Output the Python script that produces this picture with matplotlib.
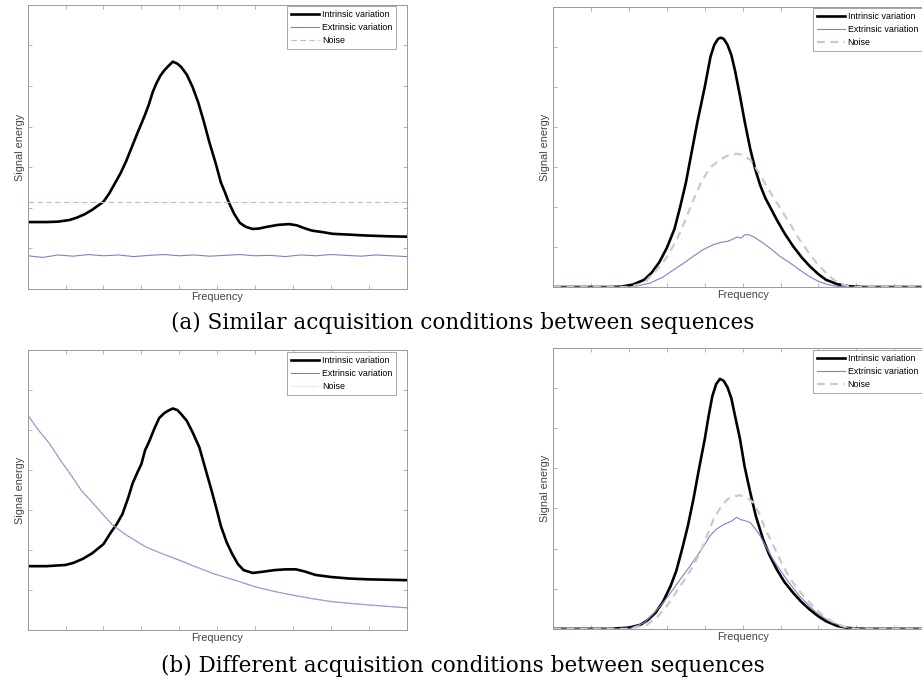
import matplotlib.pyplot as plt
import numpy as np

# frequency axis runs 0..10, signal energy 0..7 (no tick labels in the original)

# (a) left panel - intrinsic curve
freq_int_a = [0, 0.5, 0.8, 1.1, 1.3, 1.5, 1.7, 1.85, 2.0, 2.15, 2.3, 2.45, 2.6, 2.75, 2.9, 3.0,
              3.1, 3.2, 3.3, 3.4, 3.5, 3.6, 3.7, 3.83, 3.95, 4.05, 4.2, 4.35, 4.5, 4.65, 4.8, 4.97,
              5.1, 5.2, 5.3, 5.45, 5.6, 5.76, 5.94, 6.1, 6.3, 6.6, 6.9, 7.1, 7.3, 7.5, 7.8, 8.05,
              8.5, 8.9, 9.5, 10]
energy_int_a = [1.65, 1.65, 1.66, 1.7, 1.76, 1.84, 1.95, 2.05, 2.15, 2.35, 2.6, 2.85, 3.15, 3.5, 3.85, 4.07,
                4.3, 4.55, 4.85, 5.07, 5.25, 5.38, 5.48, 5.6, 5.55, 5.47, 5.28, 4.98, 4.6, 4.12, 3.6, 3.07,
                2.62, 2.4, 2.15, 1.85, 1.63, 1.53, 1.48, 1.49, 1.53, 1.58, 1.6, 1.57, 1.5, 1.44, 1.4, 1.36,
                1.34, 1.32, 1.3, 1.29]
# (a) left panel - extrinsic (wavy flat line) and noise (flat dashed)
freq_ext_a = [0, 0.4, 0.8, 1.2, 1.6, 2.0, 2.4, 2.8, 3.2, 3.6, 4.0, 4.4, 4.8, 5.2, 5.6, 6.0,
              6.4, 6.8, 7.2, 7.6, 8.0, 8.4, 8.8, 9.2, 9.6, 10]
energy_ext_a = [0.82, 0.78, 0.84, 0.81, 0.85, 0.82, 0.84, 0.80, 0.83, 0.85, 0.82, 0.84, 0.81, 0.83, 0.85, 0.82,
                0.83, 0.80, 0.84, 0.82, 0.85, 0.83, 0.81, 0.84, 0.82, 0.80]
freq_noise_a = [0, 10]
energy_noise_a = [2.15, 2.15]

# (a) right panel
freq_int_a2 = [0, 1.5, 1.8, 2.1, 2.4, 2.6, 2.8, 3.0, 3.2, 3.35, 3.5, 3.6, 3.8, 4.0, 4.15, 4.25,
               4.35, 4.42, 4.5, 4.6, 4.7, 4.8, 4.93, 5.05, 5.2, 5.33, 5.46, 5.6, 5.75, 5.9, 6.1, 6.33,
               6.55, 6.77, 7.0, 7.2, 7.5, 7.8, 8.2, 10]
energy_int_a2 = [0, 0, 0.01, 0.06, 0.18, 0.36, 0.62, 0.98, 1.45, 2.0, 2.6, 3.1, 4.1, 5.0, 5.75, 6.05,
                 6.2, 6.23, 6.2, 6.05, 5.8, 5.4, 4.77, 4.15, 3.45, 2.95, 2.55, 2.22, 1.95, 1.68, 1.35, 1.02,
                 0.75, 0.52, 0.32, 0.18, 0.07, 0.02, 0, 0]
freq_ext_a2 = [0, 2.1, 2.56, 2.9, 3.18, 3.45, 3.7, 3.95, 4.23, 4.45, 4.6, 4.75, 4.85, 4.95, 5.05, 5.15,
               5.3, 5.54, 5.75, 5.98, 6.25, 6.5, 6.75, 7.0, 7.25, 7.47, 7.7, 10]
energy_ext_a2 = [0, 0, 0.1, 0.25, 0.43, 0.6, 0.77, 0.93, 1.06, 1.12, 1.14, 1.2, 1.25, 1.22, 1.3, 1.31,
                 1.25, 1.1, 0.95, 0.77, 0.6, 0.43, 0.27, 0.14, 0.06, 0.02, 0, 0]
freq_noise_a2 = [0, 2.0, 2.4, 2.8, 3.0, 3.26, 3.5, 3.7, 3.9, 4.05, 4.2, 4.4, 4.6, 4.84, 5.0, 5.2,
                 5.4, 5.63, 5.85, 6.07, 6.3, 6.5, 6.75, 6.95, 7.2, 7.4, 7.6, 7.8, 8.0, 10]
energy_noise_a2 = [0, 0, 0.1, 0.5, 0.75, 1.18, 1.7, 2.18, 2.6, 2.85, 3.03, 3.18, 3.28, 3.33, 3.3, 3.18,
                   2.9, 2.52, 2.18, 1.85, 1.5, 1.18, 0.85, 0.6, 0.35, 0.18, 0.07, 0.02, 0, 0]

# (b) left panel
freq_int_b = [0, 0.5, 1.0, 1.2, 1.45, 1.7, 2.0, 2.2, 2.35, 2.5, 2.65, 2.77, 2.9, 3.0, 3.1, 3.2,
              3.35, 3.47, 3.6, 3.7, 3.83, 3.95, 4.05, 4.2, 4.35, 4.53, 4.7, 4.85, 4.97, 5.1, 5.25, 5.4,
              5.55, 5.7, 5.94, 6.2, 6.5, 6.8, 7.08, 7.3, 7.6, 8.0, 8.5, 9.0, 10]
energy_int_b = [1.6, 1.6, 1.63, 1.68, 1.78, 1.92, 2.15, 2.45, 2.65, 2.9, 3.3, 3.67, 3.95, 4.15, 4.5, 4.7,
                5.05, 5.3, 5.42, 5.48, 5.54, 5.5, 5.4, 5.23, 4.95, 4.57, 4.0, 3.5, 3.08, 2.6, 2.2, 1.9,
                1.65, 1.5, 1.43, 1.46, 1.5, 1.52, 1.52, 1.47, 1.38, 1.33, 1.29, 1.27, 1.25]
freq_ext_b = [0, 0.3, 0.57, 0.9, 1.2, 1.41, 1.7, 2.0, 2.24, 2.6, 3.12, 3.5, 4.0, 4.5, 4.88, 5.5,
              6.02, 6.5, 7.0, 7.5, 8.05, 9.0, 10]
energy_ext_b = [5.38, 4.98, 4.67, 4.2, 3.8, 3.5, 3.2, 2.88, 2.63, 2.38, 2.08, 1.93, 1.75, 1.56, 1.42, 1.24,
                1.08, 0.97, 0.875, 0.79, 0.71, 0.63, 0.56]
# noise lies under the extrinsic curve in this panel
freq_noise_b = freq_ext_b
energy_noise_b = energy_ext_b

# (b) right panel
freq_int_b2 = [0, 1.5, 2.0, 2.3, 2.5, 2.7, 2.9, 3.1, 3.25, 3.4, 3.55, 3.7, 3.85, 4.0, 4.1, 4.2,
               4.3, 4.4, 4.5, 4.6, 4.7, 4.8, 4.93, 5.05, 5.2, 5.35, 5.54, 5.7, 5.9, 6.1, 6.33, 6.55,
               6.77, 7.0, 7.2, 7.5, 7.8, 8.2, 10]
energy_int_b2 = [0, 0, 0.03, 0.1, 0.22, 0.4, 0.68, 1.07, 1.45, 1.98, 2.55, 3.23, 4.0, 4.73, 5.3, 5.8,
                 6.1, 6.23, 6.18, 6.02, 5.75, 5.3, 4.73, 4.05, 3.4, 2.8, 2.23, 1.85, 1.48, 1.17, 0.9, 0.67,
                 0.48, 0.31, 0.19, 0.07, 0.02, 0, 0]
freq_ext_b2 = [0, 2.0, 2.4, 2.65, 2.9, 3.1, 3.35, 3.6, 3.8, 4.0, 4.14, 4.3, 4.5, 4.7, 4.84, 4.95,
               5.05, 5.2, 5.33, 5.46, 5.6, 5.8, 6.0, 6.16, 6.33, 6.5, 6.75, 6.95, 7.2, 7.4, 7.6, 7.8,
               8.0, 10]
energy_ext_b2 = [0, 0, 0.15, 0.38, 0.65, 0.9, 1.23, 1.55, 1.82, 2.1, 2.32, 2.48, 2.6, 2.68, 2.78, 2.72,
                 2.7, 2.65, 2.5, 2.32, 2.07, 1.73, 1.45, 1.23, 1.02, 0.82, 0.58, 0.4, 0.24, 0.15, 0.07, 0.02,
                 0, 0]
freq_noise_b2 = [0, 2.0, 2.47, 2.75, 3.0, 3.2, 3.44, 3.65, 3.88, 4.05, 4.23, 4.4, 4.6, 4.75, 4.93, 5.1,
                 5.28, 5.45, 5.6, 5.8, 5.98, 6.15, 6.33, 6.55, 6.77, 7.0, 7.2, 7.45, 7.7, 8.0, 10]
energy_noise_b2 = [0, 0, 0.1, 0.3, 0.57, 0.85, 1.19, 1.5, 1.9, 2.3, 2.73, 3.0, 3.23, 3.3, 3.33, 3.27,
                   3.15, 2.85, 2.48, 2.1, 1.73, 1.42, 1.15, 0.88, 0.65, 0.43, 0.27, 0.13, 0.05, 0, 0]

labels = ['Intrinsic variation', 'Extrinsic variation', 'Noise']
captions = ['(a) Similar acquisition conditions between sequences',
            '(b) Different acquisition conditions between sequences']


def style_axes(ax):
    ax.set_xlim(0, 10)
    ax.set_ylim(0, 7)
    ax.set_xticks(np.arange(0, 11, 1))
    ax.set_yticks(np.arange(0, 8, 1))
    ax.tick_params(direction='in', length=3, width=0.5, colors='#999999',
                   top=True, right=True, labelbottom=False, labelleft=False)
    for s in ax.spines.values():
        s.set_color('#9a9a9a')
        s.set_linewidth(0.7)
    ax.set_xlabel('Frequency', fontsize=7.8, color='#444444', labelpad=2)
    ax.set_ylabel('Signal energy', fontsize=7.8, color='#444444', labelpad=2)
    ax.legend(labels, loc='upper right', bbox_to_anchor=(0.985, 1.01), fontsize=6.4,
              frameon=True, fancybox=False, edgecolor='#999999', framealpha=1,
              handlelength=3.2, labelspacing=0.45, borderpad=0.45, handletextpad=0.3)
    ax.get_legend().get_frame().set_linewidth(0.6)


def draw_panel(ax, fi, ei, fe, ee, fn, en, noise_kw):
    ax.plot(fi, ei, color='black', lw=1.9)
    ax.plot(fe, ee, color='#8080cc', lw=0.8)
    ax.plot(fn, en, **noise_kw)
    style_axes(ax)


def main():
    plt.rcParams['font.family'] = ['Liberation Sans', 'DejaVu Sans']
    fig = plt.figure(figsize=(9.22, 6.85), dpi=100)

    ax_tl = fig.add_axes([0.030, 0.578, 0.411, 0.415])
    ax_tr = fig.add_axes([0.600, 0.581, 0.411, 0.409])
    ax_bl = fig.add_axes([0.030, 0.080, 0.411, 0.409])
    ax_br = fig.add_axes([0.600, 0.082, 0.411, 0.410])

    thin_noise = dict(color='#e8aab8', lw=0.8, dashes=(5, 3))
    thick_noise = dict(color='#d8c4c8', lw=1.6, dashes=(3.5, 2.5))
    faint_noise = dict(color='#c8c8dc', lw=0.7, ls=':')

    draw_panel(ax_tl, freq_int_a, energy_int_a, freq_ext_a, energy_ext_a,
               freq_noise_a, energy_noise_a, thin_noise)
    draw_panel(ax_tr, freq_int_a2, energy_int_a2, freq_ext_a2, energy_ext_a2,
               freq_noise_a2, energy_noise_a2, thick_noise)
    draw_panel(ax_bl, freq_int_b, energy_int_b, freq_ext_b, energy_ext_b,
               freq_noise_b, energy_noise_b, faint_noise)
    draw_panel(ax_br, freq_int_b2, energy_int_b2, freq_ext_b2, energy_ext_b2,
               freq_noise_b2, energy_noise_b2, thick_noise)

    fig.text(463 / 922, 1 - 329 / 685, captions[0], ha='center', va='baseline',
             family='DejaVu Serif', fontsize=15.5)
    fig.text(463 / 922, 1 - 672 / 685, captions[1], ha='center', va='baseline',
             family='DejaVu Serif', fontsize=15.5)

    fig.savefig('out.png', dpi=100)


if __name__ == "__main__":
    main()
